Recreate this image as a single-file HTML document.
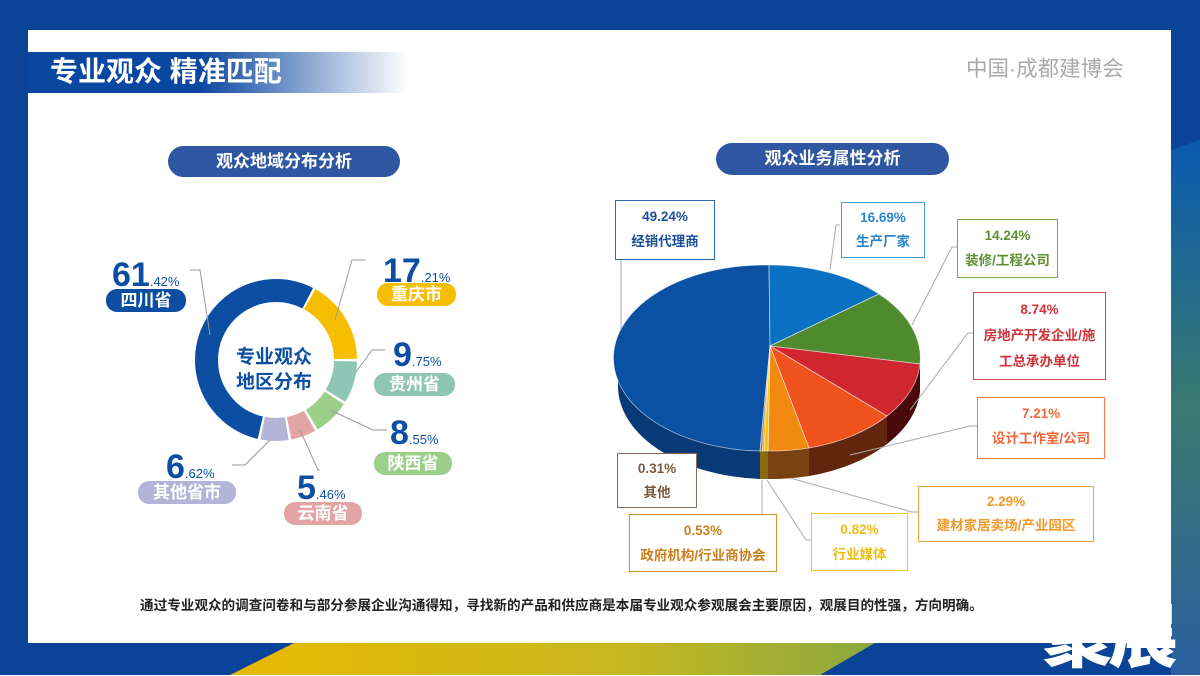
<!DOCTYPE html>
<html><head><meta charset="utf-8">
<style>
body{margin:0;width:1200px;height:675px;overflow:hidden;font-family:"Liberation Sans","Noto Sans CJK SC",sans-serif;}
.bg{position:absolute;left:0;top:0;width:1200px;height:675px;background:#0b4399;overflow:hidden}
.card{position:absolute;left:28px;top:30px;width:1143px;height:613px;background:#fff}
.t{position:absolute;white-space:nowrap}
.pill{position:absolute;border-radius:14px;color:#fff;font-weight:bold;text-align:center;font-size:17px}
.box{position:absolute;background:#fff;border:1.5px solid;text-align:center;font-size:13.5px;font-weight:bold;line-height:25px;box-sizing:border-box;padding-top:3px}
.big{font-weight:bold;color:#0b4ea2;font-size:34px;line-height:34px}
.big span{font-size:13px;font-weight:normal}
</style></head><body>
<div class="bg">
<svg width="1200" height="675" style="position:absolute;left:0;top:0">
<defs>
<linearGradient id="yg" x1="0" x2="1"><stop offset="0" stop-color="#e8b800"/><stop offset="0.6" stop-color="#c8b820"/><stop offset="1" stop-color="#8aa840"/></linearGradient>
<linearGradient id="rg" x1="0" y1="0" x2="0" y2="1"><stop offset="0" stop-color="#0a5ab0"/><stop offset="0.5" stop-color="#3a7a70"/><stop offset="1" stop-color="#2a60a0"/></linearGradient>
</defs>
<polygon points="230,675 300,640 880,640 820,675" fill="url(#yg)"/>
<polygon points="1171,150 1200,140 1200,675 1171,675" fill="url(#rg)"/>
</svg>
<div class="card"></div>
</div>
<div style="position:absolute;left:28px;top:52px;width:380px;height:41px;background:linear-gradient(90deg,#0a47a0 0%,#0a47a0 45%,#ffffff 100%)"></div>
<div class="t" style="left:50px;top:53px;font-size:28px;font-weight:bold;color:#fff;line-height:38px">专业观众 精准匹配</div>
<div class="t" style="left:966px;top:55px;font-size:21.5px;color:#aaa;line-height:28px">中国·成都建博会</div>
<div class="pill" style="left:168px;top:146px;width:232px;height:31px;line-height:31px;background:#2f56a0;border-radius:16px">观众地域分布分析</div>
<div class="pill" style="left:716px;top:143px;width:233px;height:32px;line-height:32px;background:#2f56a0;border-radius:16px">观众业务属性分析</div>

<svg width="1200" height="675" style="position:absolute;left:0;top:0">
<g transform="translate(276,360) rotate(-90)" fill="none" stroke-width="23">
<circle r="69.5" stroke="#f5be00" stroke-dasharray="72.8 400" stroke-dashoffset="-35.2"/>
<circle r="69.5" stroke="#8ec5b4" stroke-dasharray="36.4 400" stroke-dashoffset="-110.4"/>
<circle r="69.5" stroke="#9ccf8a" stroke-dasharray="31.5 400" stroke-dashoffset="-149.2"/>
<circle r="69.5" stroke="#e3a4a4" stroke-dasharray="21.8 400" stroke-dashoffset="-183.2"/>
<circle r="69.5" stroke="#b4b4d6" stroke-dasharray="24.3 400" stroke-dashoffset="-207.4"/>
<circle r="69.5" stroke="#0b4ea2" stroke-dasharray="203 400" stroke-dashoffset="-234.1"/>
<circle r="69.5" stroke="#0b4ea2" stroke-dasharray="33 500" stroke-dashoffset="0"/>
</g>
<g stroke="#999" stroke-width="1" fill="none">
<polyline points="190,270 200,270 210,335"/>
<polyline points="365,260 352,260 335,320"/>
<polyline points="385,350 372,350 356,372"/>
<polyline points="387,430 373,430 330,410"/>
<polyline points="320,470 318,470 300,430"/>
<polyline points="232,465 245,465 270,440"/>
</g>
<g>
<path d="M760,451 A151 93 0 0 1 618,358 L618,386 A151 93 0 0 0 760,479 Z" fill="#083a78"/>
<path d="M920,364 A151 93 0 0 1 887,416 L887,444 A151 93 0 0 0 920,392 Z" fill="#4a0a0c"/>
<path d="M887,416 A151 93 0 0 1 809,448 L809,476 A151 93 0 0 0 887,444 Z" fill="#62260e"/>
<path d="M809,448 A151 93 0 0 1 768,451 L768,479 A151 93 0 0 0 809,476 Z" fill="#7a4210"/>
<path d="M768,451 A151 93 0 0 1 760,451 L760,479 A151 93 0 0 0 768,479 Z" fill="#8a6a10"/>
</g>
<g stroke="#fff" stroke-width="0.8" stroke-opacity="0.6">
<path d="M770,346 L760,451 A151 93 0 1 1 769,265 Z" fill="#0b51a3"/>
<path d="M770,346 L769,265 A151 93 0 0 1 879,294 Z" fill="#0a70c2"/>
<path d="M770,346 L879,294 A151 93 0 0 1 920,364 Z" fill="#4f8b2e"/>
<path d="M770,346 L920,364 A151 93 0 0 1 887,416 Z" fill="#cf2630"/>
<path d="M770,346 L887,416 A151 93 0 0 1 809,448 Z" fill="#f0521e"/>
<path d="M770,346 L809,448 A151 93 0 0 1 768,451 Z" fill="#f28a12"/>
<path d="M770,346 L768,451 A151 93 0 0 1 764,451 Z" fill="#f5c400"/>
<path d="M770,346 L764,451 A151 93 0 0 1 762,451 Z" fill="#e0a020"/>
<path d="M770,346 L762,451 A151 93 0 0 1 760,451 Z" fill="#a07050"/>
</g>
<g stroke="#aaa" stroke-width="1" fill="none">
<polyline points="621,260 621,330"/>
<polyline points="840,225 836,225 830,270"/>
<polyline points="957,247 952,247 912,325"/>
<polyline points="973,333 968,333 910,410"/>
<polyline points="977,426 970,426 850,455"/>
<polyline points="918,512 912,512 790,478"/>
<polyline points="811,540 806,540 767,480"/>
<polyline points="762,514 762,480"/>
</g>
</svg>
<div class="t" style="left:236px;top:345px;font-size:19px;font-weight:bold;color:#0b4ea2;line-height:25px;text-align:center">专业观众<br>地区分布</div>

<div class="t big" style="left:112px;top:258px">61<span>.42%</span></div>
<div class="pill" style="left:106px;top:289px;width:80px;height:23px;line-height:23px;background:#0b4ea2;border-radius:11px">四川省</div>
<div class="t big" style="left:383px;top:254px">17<span>.21%</span></div>
<div class="pill" style="left:377px;top:283px;width:79px;height:23px;line-height:23px;background:#f5be00;border-radius:11px">重庆市</div>
<div class="t big" style="left:393px;top:338px">9<span>.75%</span></div>
<div class="pill" style="left:374px;top:373px;width:81px;height:23px;line-height:23px;background:#8ec5b4;border-radius:11px">贵州省</div>
<div class="t big" style="left:390px;top:416px">8<span>.55%</span></div>
<div class="pill" style="left:374px;top:452px;width:78px;height:23px;line-height:23px;background:#9ccf8a;border-radius:11px">陕西省</div>
<div class="t big" style="left:297px;top:471px">5<span>.46%</span></div>
<div class="pill" style="left:284px;top:502px;width:78px;height:23px;line-height:23px;background:#e3a4a4;border-radius:11px">云南省</div>
<div class="t big" style="left:166px;top:450px">6<span>.62%</span></div>
<div class="pill" style="left:138px;top:481px;width:98px;height:23px;line-height:23px;background:#b4b4d6;border-radius:11px">其他省市</div>

<div class="box" style="left:615px;top:200px;width:100px;height:60px;border-color:#2d6ab0;color:#1b4f9c">49.24%<br>经销代理商</div>
<div class="box" style="left:841px;top:202px;width:84px;height:56px;border-color:#4a9ad6;color:#2a86cc;line-height:24px">16.69%<br>生产厂家</div>
<div class="box" style="left:957px;top:219px;width:101px;height:59px;border-color:#7aa84a;color:#5e9030">14.24%<br>装修/工程公司</div>
<div class="box" style="left:973px;top:292px;width:133px;height:88px;border-color:#d8404a;color:#d0343a;line-height:26px;padding-top:4px">8.74%<br>房地产开发企业/施<br>工总承办单位</div>
<div class="box" style="left:977px;top:397px;width:128px;height:62px;border-color:#f07a4a;color:#f0683a">7.21%<br>设计工作室/公司</div>
<div class="box" style="left:918px;top:486px;width:176px;height:56px;border-color:#f2a040;color:#f29a2a;line-height:24px">2.29%<br>建材家居卖场/产业园区</div>
<div class="box" style="left:811px;top:513px;width:97px;height:58px;border-color:#f5c518;color:#f0bc10">0.82%<br>行业媒体</div>
<div class="box" style="left:629px;top:514px;width:148px;height:58px;border-color:#d8902c;color:#c8801c">0.53%<br>政府机构/行业商协会</div>
<div class="box" style="left:617px;top:453px;width:80px;height:55px;border-color:#8a6a50;color:#7a5a40;line-height:24px">0.31%<br>其他</div>

<div class="t" style="left:140px;top:596px;font-size:13.6px;color:#222;font-weight:bold;line-height:20px">通过专业观众的调查问卷和与部分参展企业沟通得知，寻找新的产品和供应商是本届专业观众参观展会主要原因，观展目的性强，方向明确。</div>
<div class="t" style="left:1042px;top:600px;font-size:70px;font-weight:900;color:#fff;line-height:75px;letter-spacing:-4px">聚展</div>
</body></html>
